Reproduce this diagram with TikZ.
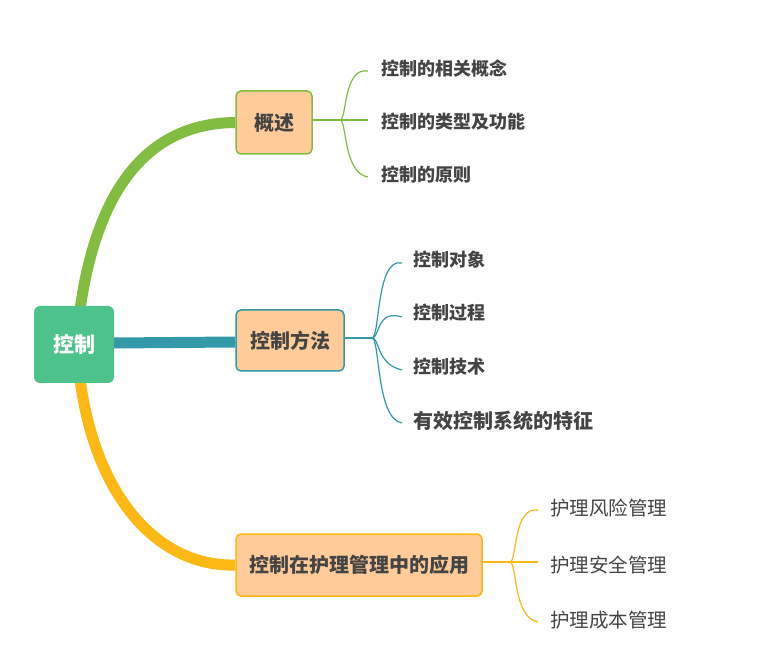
\documentclass[tikz,border=0pt]{standalone}
\usepackage{fontspec}
\setmainfont{Noto Sans CJK SC}
\usetikzlibrary{backgrounds}
\definecolor{cgreen}{HTML}{80BD41}
\definecolor{cteal}{HTML}{3399A8}
\definecolor{cyellow}{HTML}{FDB813}
\definecolor{croot}{HTML}{4EC28B}
\definecolor{cpeach}{HTML}{FFCC99}
\definecolor{ctext}{HTML}{444444}
\tikzset{
  rootbox/.style={fill=croot, rounded corners=6pt, text=white, inner sep=0pt,
    minimum width=80pt, minimum height=77pt, font=\fontsize{21}{21}\selectfont\bfseries},
  topicbox/.style={fill=cpeach, draw=#1, line width=1.5pt, rounded corners=5pt, text=ctext,
    inner sep=0pt, minimum height=62pt, font=\fontsize{20}{20}\selectfont\bfseries},
  subtext/.style={anchor=west, inner sep=0pt, text=ctext, font=\fontsize{18}{18}\selectfont\bfseries},
  subplain/.style={anchor=west, inner sep=0pt, text=ctext, font=\fontsize{19.5}{19.5}\selectfont},
  mainline/.style={draw=#1, line width=11pt},
  thinline/.style={draw=#1, line width=1.2pt},
}
\begin{document}
\begin{tikzpicture}[x=1pt,y=-1pt]
\useasboundingbox (0,0) rectangle (780,655);
\node[rootbox] (root) at (74,344.5) {控制};
\node[topicbox=cgreen, minimum width=76pt, minimum height=63pt] (gs) at (274,122.5) {概述};
\node[topicbox=cteal, minimum width=108pt, minimum height=61pt] (ff) at (290,340.5) {控制方法};
\node[topicbox=cyellow, minimum width=246pt, minimum height=62pt] (yy) at (359,565) {控制在护理管理中的应用};

\node[subtext] (g1) at (381,69) {控制的相关概念};
\node[subtext] (g2) at (381,122) {控制的类型及功能};
\node[subtext] (g3) at (381,175) {控制的原则};

\node[subtext] (t1) at (413,260) {控制对象};
\node[subtext] (t2) at (413,313) {控制过程};
\node[subtext] (t3) at (413,367) {控制技术};
\node[subtext, font=\fontsize{20}{20}\selectfont\bfseries] (t4) at (413,421) {有效控制系统的特征};

\node[subplain] (y1) at (550,508) {护理风险管理};
\node[subplain] (y2) at (550,565) {护理安全管理};
\node[subplain] (y3) at (550,620) {护理成本管理};

\coordinate (gj) at (340,120);
\coordinate (tj) at (372,338);
\coordinate (yj) at (510,562);

\begin{scope}[on background layer]
\fill[white] (0,0) rectangle (780,655);
\draw[mainline=cgreen] ([xshift=6pt,yshift=-4pt]root.north) .. controls (101,160) and (170,123) .. (gs.west);
\draw[mainline=cteal] ([yshift=1.5pt]root.east) -- ([yshift=-1.5pt]ff.west);
\draw[mainline=cyellow] ([xshift=6pt,yshift=4pt]root.south) .. controls (96,500) and (160,567) .. (yy.west);
\end{scope}

\draw[thinline=cgreen] (gs.east |- gj) -- ([xshift=-13pt]g2.west |- gj);
\draw[thinline=cgreen] (gj) .. controls (347,120) and (343,67) .. ([xshift=-13pt,yshift=-2pt]g1.west);
\draw[thinline=cgreen] (gj) .. controls (347,120) and (343,173) .. ([xshift=-13pt,yshift=-2pt]g3.west);

\draw[thinline=cteal] (ff.east |- tj) -- (tj);
\draw[thinline=cteal] (tj) .. controls (380,338) and (376,257) .. ([xshift=-11pt,yshift=-3pt]t1.west);
\draw[thinline=cteal] (tj) .. controls (380,338) and (376,309) .. ([xshift=-11pt,yshift=-4pt]t2.west);
\draw[thinline=cteal] (tj) .. controls (380,338) and (376,364) .. ([xshift=-11pt,yshift=-3pt]t3.west);
\draw[thinline=cteal] (tj) .. controls (380,338) and (376,419) .. ([xshift=-11pt,yshift=-2pt]t4.west);

\draw[thinline=cyellow] (yy.east |- yj) -- ([xshift=-12pt]y2.west |- yj);
\draw[thinline=cyellow] (yj) .. controls (517,562) and (513,506) .. ([xshift=-12pt,yshift=-2pt]y1.west);
\draw[thinline=cyellow] (yj) .. controls (517,562) and (513,618) .. ([xshift=-12pt,yshift=-2pt]y3.west);
\end{tikzpicture}
\end{document}
